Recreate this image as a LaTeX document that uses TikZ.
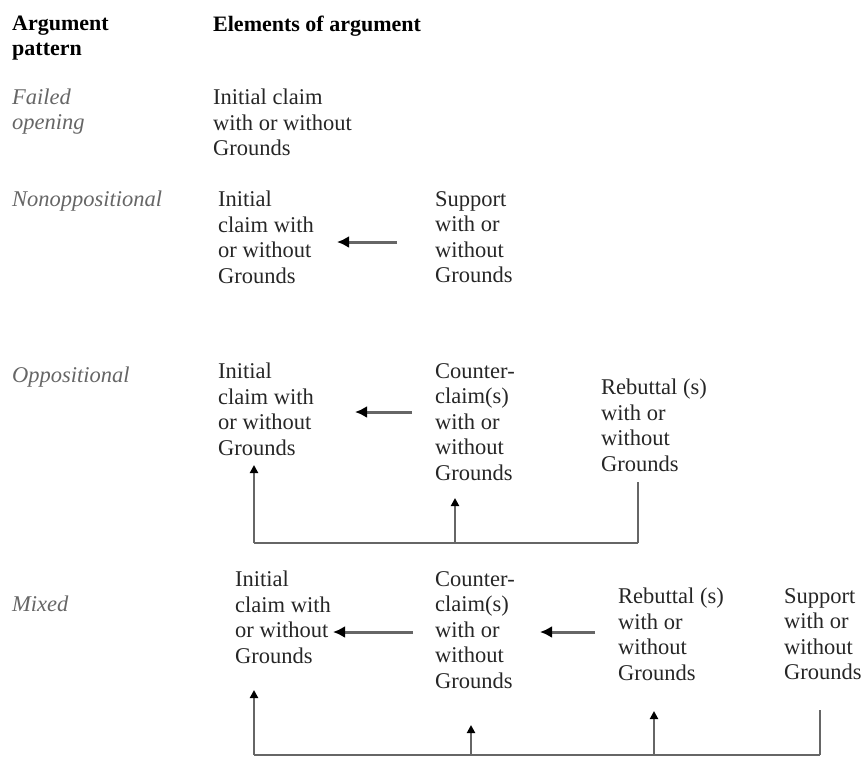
\documentclass[tikz,border=0pt]{standalone}
\usepackage{fontspec}
\setmainfont{Liberation Serif}
\usetikzlibrary{positioning,arrows.meta}

\begin{document}
\begin{tikzpicture}[
  x=1pt, y=-1pt,
  font=\fontsize{22.5}{25.5}\selectfont,
  txt/.style={anchor=north west, align=left, inner sep=0pt, text=black!85},
  head/.style={txt, font=\fontsize{22}{25}\selectfont\bfseries, text=black},
  pat/.style={txt, font=\fontsize{22.5}{25}\selectfont\itshape, text=black!60},
  arr/.style={draw=black!60, line width=3pt,
              -{Latex[length=12pt, width=12pt, color=black]}},
  fb/.style={draw=black!60, line width=2pt,
             -{Triangle[length=8pt, width=8pt, color=black]}},
  fbl/.style={draw=black!60, line width=2pt},
]
\useasboundingbox (0,0) rectangle (861,758);

% ---- column heads -----------------------------------------------
\node[head] (hpat) at (12,16)  {Argument\\pattern};
\node[head] (helm) at (213,16) {Elements of argument};

% ---- failed opening ---------------------------------------------
\node[pat] (pfail) at (12,89)  {Failed\\opening};
\node[txt] (f1)    at (213,89) {Initial claim\\with or without\\Grounds};

% ---- nonoppositional --------------------------------------------
\node[pat] (pnon) at (12,191)  {Nonoppositional};
\node[txt] (n1)   at (218,191) {Initial\\claim with\\or without\\Grounds};
\node[txt] (n2)   at (435,191) {Support\\with or\\without\\Grounds};
\draw[arr] (397,242) -- (337,242);

% ---- oppositional -----------------------------------------------
\node[pat] (popp) at (12,367)  {Oppositional};
\node[txt] (o1)   at (218,363) {Initial\\claim with\\or without\\Grounds};
\node[txt] (o2)   at (435,363) {Counter-\\claim(s)\\with or\\without\\Grounds};
\node[txt] (o3)   at (601,379) {Rebuttal (s)\\with or\\without\\Grounds};
\draw[arr] (412,412) -- (355,412);

\coordinate (ob1) at (254,543);
\coordinate (ob2) at (455,543);
\coordinate (ob3) at (638,543);
\draw[fbl] (ob1) -- (ob3);
\draw[fb]  (ob1) -- (254,465);
\draw[fb]  (ob2) -- (455,498);
\draw[fbl] (ob3) -- (638,482);

% ---- mixed ------------------------------------------------------
\node[pat] (pmix) at (12,596)  {Mixed};
\node[txt] (m1)   at (235,571) {Initial\\claim with\\or without\\Grounds};
\node[txt] (m2)   at (435,571) {Counter-\\claim(s)\\with or\\without\\Grounds};
\node[txt] (m3)   at (618,588) {Rebuttal (s)\\with or\\without\\Grounds};
\node[txt] (m4)   at (784,588) {Support\\with or\\without\\Grounds};
\draw[arr] (413,632) -- (333,632);
\draw[arr] (595,632) -- (540,632);

\coordinate (mb1) at (254,755);
\coordinate (mb2) at (471,755);
\coordinate (mb3) at (654,755);
\coordinate (mb4) at (820,755);
\draw[fbl] (mb1) -- (mb4);
\draw[fb]  (mb1) -- (254,690);
\draw[fb]  (mb2) -- (471,725);
\draw[fb]  (mb3) -- (654,711);
\draw[fbl] (mb4) -- (820,710);

\end{tikzpicture}
\end{document}
